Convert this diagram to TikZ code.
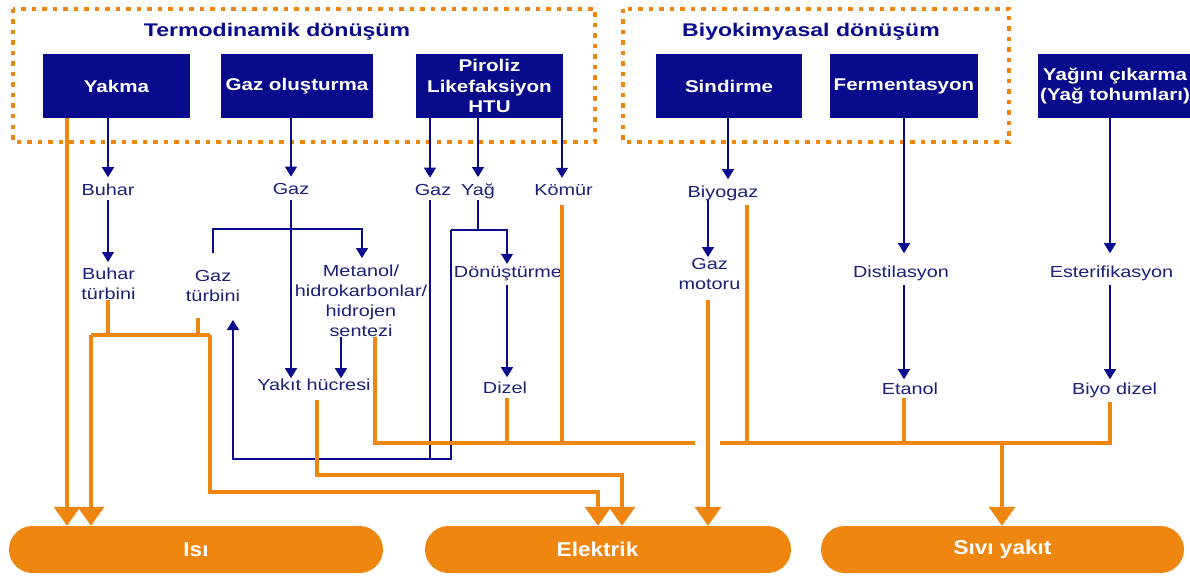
\documentclass[tikz,border=0pt]{standalone}
\usepackage{fontspec}
\setmainfont{Liberation Sans}
\newfontfamily\labfont[FakeStretch=1.24]{Liberation Sans}
\newfontfamily\boxfont[FakeStretch=1.21]{Liberation Sans}
\newfontfamily\titlefont[FakeStretch=1.26]{Liberation Sans}
\newfontfamily\pillfont[FakeStretch=1.13]{Liberation Sans}
\usetikzlibrary{arrows.meta,calc}
\definecolor{navy}{RGB}{8,12,140}
\definecolor{labnavy}{RGB}{28,32,120}
\definecolor{org}{RGB}{238,134,16}
\begin{document}
\begin{tikzpicture}[x=1pt,y=-1pt,
  lab/.style={inner sep=0pt, font=\labfont\fontsize{16}{20}\selectfont, text=labnavy, align=center},
  procbox/.style={fill=navy, inner sep=0pt, minimum height=64pt, text=white,
    font=\boxfont\bfseries\fontsize{17}{20.5}\selectfont, align=center},
  grouptitle/.style={inner sep=0pt, text=navy, font=\titlefont\bfseries\fontsize{18.3}{22}\selectfont},
  pill/.style={fill=org, rounded corners=23.5pt, minimum height=47pt, inner sep=0pt, text=white,
    font=\pillfont\bfseries\fontsize{20}{22}\selectfont},
  bline/.style={draw=navy, line width=1.3pt},
  barrow/.style={bline, -{Triangle[width=12pt,length=10pt]}},
  oline/.style={draw=org, line width=3.6pt},
  othin/.style={draw=org, line width=3.1pt},
  oarrow/.style={-{Triangle[width=26pt,length=19pt]}},
  dotbox/.style={draw=org, line width=4.5pt, dash pattern=on 4.5pt off 6pt},
]
\fill[white] (0,0) rectangle (1190,575);
\useasboundingbox (0,0) rectangle (1190,575);

% group frames
\draw[dotbox] (13,9) rectangle (595,142);
\draw[dotbox] (623,9) rectangle (1009,142);
\node[grouptitle, anchor=base] (t1) at (277,37) {Termodinamik dönüşüm};
\node[grouptitle, anchor=base] (t2) at (811,37) {Biyokimyasal dönüşüm};

% process boxes
\node[procbox, minimum width=147pt] (yakma) at (116.5,86) {Yakma};
\node[procbox, minimum width=152pt] (gazol) at (297,86) {Gaz oluşturma};
\node[procbox, minimum width=147pt] (piroliz) at (489.5,86) {Piroliz\\Likefaksiyon\\HTU};
\node[procbox, minimum width=146pt] (sindirme) at (729,86) {Sindirme};
\node[procbox, minimum width=148pt] (ferment) at (904,86) {Fermentasyon};
\node[procbox, minimum width=154pt] (yagini) at (1115,86) {Yağını çıkarma\\(Yağ tohumları)};

% labels
\node[lab, anchor=base] (buhar) at (108,195) {Buhar};
\node[lab, anchor=base] (gaz1) at (291,194) {Gaz};
\node[lab, anchor=base] (gaz2) at (433,195) {Gaz};
\node[lab, anchor=base] (yag) at (478,195) {Yağ};
\node[lab, anchor=base] (komur) at (563.5,195) {Kömür};
\node[lab, anchor=base] (biyogaz) at (723,197) {Biyogaz};
\node[lab, anchor=north] (bturb) at (108.5,268) {Buhar\\türbini};
\node[lab, anchor=north] (gturb) at (213,270) {Gaz\\türbini};
\node[lab, anchor=north] (metanol) at (361,265) {Metanol/\\hidrokarbonlar/\\hidrojen\\sentezi};
\node[lab, anchor=base] (dont) at (508,277) {Dönüştürme};
\node[lab, anchor=north] (gazmot) at (709.5,258) {Gaz\\motoru};
\node[lab, anchor=base] (distil) at (901,277) {Distilasyon};
\node[lab, anchor=base] (ester) at (1111.5,277) {Esterifikasyon};
\node[lab, anchor=base] (yakit) at (314,390) {Yakıt hücresi};
\node[lab, anchor=base] (dizel) at (505,393) {Dizel};
\node[lab, anchor=base] (etanol) at (910,394) {Etanol};
\node[lab, anchor=base] (biyod) at (1114.5,394) {Biyo dizel};

% output pills
\node[pill, minimum width=374pt] (isi) at (196,549.5) {Isı};
\node[pill, minimum width=366pt] (elek) at (608,549.5) {\hspace*{-21pt}Elektrik};
\node[pill, minimum width=363pt] (sivi) at (1002.5,549.5) {Sıvı yakıt};

% columns and rows
\coordinate (cYakma) at (67,0);
\coordinate (cHbL) at (91,0);
\coordinate (cBuhar) at (108,0);
\coordinate (cGT) at (198,0);
\coordinate (cHbR) at (210,0);
\coordinate (cGloop) at (233,0);
\coordinate (cGaz) at (291,0);
\coordinate (cYakit) at (317,0);
\coordinate (cMetY) at (341,0);
\coordinate (cMet) at (362,0);
\coordinate (cMetO) at (375,0);
\coordinate (cGaz2) at (430,0);
\coordinate (cYfork) at (451,0);
\coordinate (cYag) at (478,0);
\coordinate (cDont) at (507,0);
\coordinate (cKomur) at (562,0);
\coordinate (cE1) at (598,0);
\coordinate (cE2) at (622,0);
\coordinate (cGap1) at (695,0);
\coordinate (cGmot) at (708,0);
\coordinate (cGap2) at (720,0);
\coordinate (cSind) at (728,0);
\coordinate (cBgo) at (747,0);
\coordinate (cFerm) at (904,0);
\coordinate (cSivi) at (1002,0);
\coordinate (cYag2) at (1110,0);
\coordinate (rL1) at (0,200);
\coordinate (rKoO) at (0,205);
\coordinate (rBr) at (0,229);
\coordinate (rYf) at (0,230);
\coordinate (rL2) at (0,285);
\coordinate (rGmO) at (0,300);
\coordinate (rGtO) at (0,318);
\coordinate (rGtIn) at (0,320);
\coordinate (rHb) at (0,335);
\coordinate (rDzO) at (0,398);
\coordinate (rYkO) at (0,400);
\coordinate (rBdO) at (0,402);
\coordinate (rBus) at (0,443);
\coordinate (rLoop) at (0,459);
\coordinate (rE2) at (0,475);
\coordinate (rE1) at (0,492);

% blue flows
\draw[barrow, shorten >=6pt] (yakma.south -| cBuhar) -- (cBuhar |- buhar.north);
\draw[barrow, shorten >=6pt] (gazol.south -| cGaz) -- (cGaz |- gaz1.north);
\draw[barrow, shorten >=6pt] (piroliz.south -| cGaz2) -- (cGaz2 |- gaz2.north);
\draw[barrow, shorten >=6pt] (piroliz.south -| cYag) -- (cYag |- yag.north);
\draw[barrow, shorten >=6pt] (piroliz.south -| cKomur) -- (cKomur |- komur.north);
\draw[barrow, shorten >=6pt] (sindirme.south -| cSind) -- (cSind |- biyogaz.north);
\draw[barrow, shorten >=12pt] (ferment.south -| cFerm) -- (cFerm |- distil.north);
\draw[barrow, shorten >=12pt] (yagini.south -| cYag2) -- (cYag2 |- ester.north);

\draw[barrow, shorten >=6pt] (cBuhar |- rL1) -- (cBuhar |- bturb.north);
\draw[barrow] (cGaz |- rL1) -- (cGaz |- yakit.north);
\draw[barrow, shorten >=7pt] ([yshift=17pt]gturb.north) |- (cMet |- rBr) -- (cMet |- metanol.north);
\draw[barrow] (cMetY |- metanol.south) -- (cMetY |- yakit.north);
\draw[bline] (cYag |- rL1) -- (cYag |- rYf);
\draw[barrow, shorten >=2pt] (cYfork |- rYf) -| (cDont |- dont.north);
\draw[barrow] (cYfork |- rYf) |- (cGloop |- rLoop) -- (cGloop |- rGtIn);
\draw[bline] (cGaz2 |- rL1) -- (cGaz2 |- rLoop);
\draw[barrow, shorten >=4pt] (cDont |- rL2) -- (cDont |- dizel.north);
\draw[barrow, shorten >=1pt] (cGmot |- rL1) -- (cGmot |- gazmot.north);
\draw[barrow, shorten >=3pt] (cFerm |- rL2) -- (cFerm |- etanol.north);
\draw[barrow, shorten >=3pt] (cYag2 |- rL2) -- (cYag2 |- biyod.north);

% orange flows
\draw[oline, oarrow] (yakma.south -| cYakma) -- (cYakma |- isi.north);
\draw[oline] (cBuhar |- bturb.south) -- (cBuhar |- rHb);
\draw[oline] (cGT |- rGtO) -- (cGT |- rHb);
\draw[oline] (cHbL |- rHb) -- (cHbR |- rHb);
\draw[oline, oarrow] (cHbL |- rHb) -- (cHbL |- isi.north);
\draw[othin, oarrow] (cHbR |- rHb) |- (cE1 |- rE1) -- (cE1 |- elek.north);
\draw[oline, oarrow] (cYakit |- rYkO) |- (cE2 |- rE2) -- (cE2 |- elek.north);
\draw[oline, oarrow] (cGmot |- rGmO) -- (cGmot |- elek.north);
\draw[oline] (cMetO |- metanol.south) |- (cGap1 |- rBus);
\draw[oline] (cGap2 |- rBus) -| (cYag2 |- rBdO);
\draw[oline] (cDont |- rDzO) -- (cDont |- rBus);
\draw[oline] (cKomur |- rKoO) -- (cKomur |- rBus);
\draw[oline] (cBgo |- rKoO) -- (cBgo |- rBus);
\draw[oline] (cFerm |- rDzO) -- (cFerm |- rBus);
\draw[oline, oarrow] (cSivi |- rBus) -- (cSivi |- sivi.north);
\end{tikzpicture}
\end{document}
